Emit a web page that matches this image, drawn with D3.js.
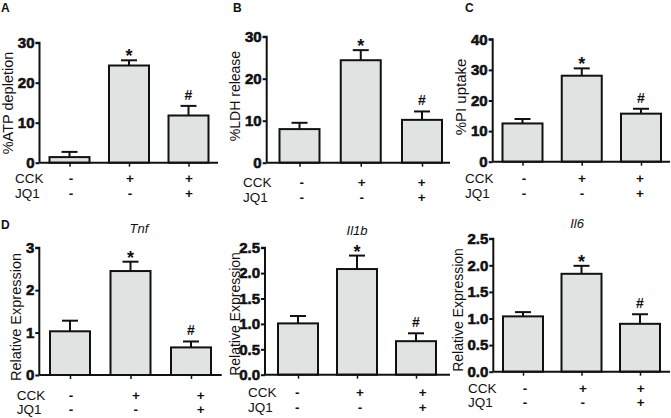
<!DOCTYPE html>
<html>
<head>
<meta charset="utf-8">
<script src="https://cdn.jsdelivr.net/npm/d3@7"></script>
<style>
html,body{margin:0;padding:0;background:#fff;}
svg{display:block;}
text{font-family:"Liberation Sans",Arial,sans-serif;fill:#111;}
</style>
</head>
<body>
<svg id="chart" width="671" height="418"></svg>
<script>
// ---- data ----
const groups = ["g1", "g2", "g3"];
const cckLabels = ["-", "+", "+"];
const jq1Labels = ["-", "-", "+"];
const sigMarks = ["", "*", "#"];

const atpMean = [1.4, 24.3, 11.8];
const atpErr  = [1.3, 1.3, 2.4];
const ldhMean = [8.0, 24.4, 10.2];
const ldhErr  = [1.5, 2.4, 2.0];
const piMean  = [12.5, 28.1, 15.7];
const piErr   = [1.45, 2.4, 1.6];
const tnfMean = [1.03, 2.45, 0.65];
const tnfErr  = [0.25, 0.22, 0.14];
const il1bMean = [1.01, 2.08, 0.66];
const il1bErr  = [0.145, 0.265, 0.155];
const il6Mean = [1.04, 1.84, 0.90];
const il6Err  = [0.08, 0.15, 0.18];

const atpTicks = [0, 10, 20, 30];
const ldhTicks = [0, 10, 20, 30];
const piTicks  = [0, 10, 20, 30, 40];
const tnfTicks = [0, 1, 2, 3];
const il1bTicks = [0, 0.5, 1.0, 1.5, 2.0, 2.5];
const il6Ticks  = [0, 0.5, 1.0, 1.5, 2.0, 2.5];

// ---- layout ----
const panels = [
  {letter:"A", lx:1, ly:12, ylabel:"%ATP depletion", ylx:13, yly:103, yfs:14.5, title:"", mean:atpMean, err:atpErr, ticks:atpTicks, fmt:d3.format("d"),
   ax:39.5, axEnd:218, y0:162.7, yTop:42.7, barRange:[69.5,188.5], labRange:[71,189], cckX:15, cckY:183, jqY:198},
  {letter:"B", lx:233, ly:12, ylabel:"%LDH release", ylx:240, yly:96, yfs:14, title:"", mean:ldhMean, err:ldhErr, ticks:ldhTicks, fmt:d3.format("d"),
   ax:266.7, axEnd:450, y0:162.7, yTop:36.7, barRange:[299.5,422], labRange:[301.7,421.7], cckX:243, cckY:186.5, jqY:201.5},
  {letter:"C", lx:465, ly:12, ylabel:"%PI uptake", ylx:466, yly:97, yfs:15, title:"", mean:piMean, err:piErr, ticks:piTicks, fmt:d3.format("d"),
   ax:492.7, axEnd:670, y0:161.7, yTop:39.3, barRange:[522.5,641], labRange:[524,640], cckX:465, cckY:183, jqY:198},
  {letter:"D", lx:1, ly:229, ylabel:"Relative Expression", ylx:20.5, yly:317, yfs:14.5, title:"Tnf", tx:139, ty:233, mean:tnfMean, err:tnfErr, ticks:tnfTicks, fmt:d3.format("d"),
   ax:39.3, axEnd:221.7, y0:375, yTop:247.7, barRange:[70,191], labRange:[71,200.7], cckX:16.7, cckY:400, jqY:414},
  {letter:"", ylabel:"Relative Expression", ylx:240, yly:314, yfs:14, title:"Il1b", tx:357, ty:235, mean:il1bMean, err:il1bErr, ticks:il1bTicks, fmt:d3.format(".1f"),
   ax:265, axEnd:450, y0:374.7, yTop:247.7, barRange:[298,416], labRange:[297.3,422.7], cckX:248, cckY:397, jqY:411.5},
  {letter:"", ylabel:"Relative Expression", ylx:463, yly:310, yfs:14, title:"Il6", tx:577, ty:228, mean:il6Mean, err:il6Err, ticks:il6Ticks, fmt:d3.format(".1f"),
   ax:493.3, axEnd:670, y0:371.7, yTop:238.7, barRange:[523,640], labRange:[525,640.7], cckX:468, cckY:392.5, jqY:406.5}
];

const svg = d3.select("#chart");
const barW = 40, capW = 16;
const fill = "#dfe4e2";

panels.forEach(p => {
  const g = svg.append("g");
  const y = d3.scaleLinear().domain([0, d3.max(p.ticks)]).range([p.y0, p.yTop]);
  const x = d3.scalePoint().domain(groups).range(p.barRange);
  const xl = d3.scalePoint().domain(groups).range(p.labRange);

  // error bars (behind bars)
  g.selectAll(".eb").data(groups).enter().append("line")
    .attr("x1", d => x(d)).attr("x2", d => x(d))
    .attr("y1", (d,i) => y(p.mean[i])).attr("y2", (d,i) => y(p.mean[i] + p.err[i]))
    .attr("stroke", "#111").attr("stroke-width", 2);
  g.selectAll(".cap").data(groups).enter().append("line")
    .attr("x1", d => x(d) - capW/2).attr("x2", d => x(d) + capW/2)
    .attr("y1", (d,i) => y(p.mean[i] + p.err[i])).attr("y2", (d,i) => y(p.mean[i] + p.err[i]))
    .attr("stroke", "#111").attr("stroke-width", 2);

  // bars
  g.selectAll(".bar").data(groups).enter().append("rect")
    .attr("x", d => x(d) - barW/2).attr("width", barW)
    .attr("y", (d,i) => y(p.mean[i])).attr("height", (d,i) => p.y0 - y(p.mean[i]))
    .attr("fill", fill).attr("stroke", "#111").attr("stroke-width", 2);

  // significance marks
  g.selectAll(".sig").data(groups).enter().append("text")
    .attr("x", d => x(d))
    .attr("y", (d,i) => y(p.mean[i] + p.err[i]) + (sigMarks[i] === "*" ? 2 : -6))
    .attr("text-anchor", "middle")
    .style("font-size", (d,i) => sigMarks[i] === "*" ? "18px" : "14px")
    .style("font-weight", "bold")
    .text((d,i) => sigMarks[i]);

  // y axis
  const yAxis = d3.axisLeft(y).tickValues(p.ticks).tickFormat(p.fmt).tickSize(4).tickPadding(1);
  const ya = g.append("g").attr("transform", `translate(${p.ax},0)`).call(yAxis);
  ya.attr("font-family", null).attr("font-size", null);
  ya.select(".domain").attr("stroke", "#111").attr("stroke-width", 2).attr("d", `M-4,${p.yTop}H0V${p.y0}`);
  ya.selectAll(".tick line").attr("stroke", "#111").attr("stroke-width", 2);
  ya.selectAll(".tick text").attr("font-size", 15).attr("font-weight", "bold")
    .style("font-size", "15px").style("font-weight", "bold").attr("fill", "#111")
    .attr("stroke", "#111").attr("stroke-width", 0.6);

  // x axis
  const xAxis = d3.axisBottom(x).tickSize(4).tickFormat("");
  const xa = g.append("g").attr("transform", `translate(0,${p.y0})`).call(xAxis);
  xa.select(".domain").attr("stroke", "#111").attr("stroke-width", 2).attr("d", `M${p.ax},0H${p.axEnd}`);
  xa.selectAll(".tick line").attr("stroke", "#111").attr("stroke-width", 1.5);

  // treatment rows
  g.append("text").attr("x", p.cckX).attr("y", p.cckY).style("font-size", "13.5px").text("CCK");
  g.append("text").attr("x", p.cckX).attr("y", p.jqY).style("font-size", "13.5px").text("JQ1");
  g.selectAll(".cck").data(groups).enter().append("text")
    .attr("x", d => xl(d)).attr("y", p.cckY).attr("text-anchor", "middle")
    .style("font-size", "13.5px").style("font-weight", "bold").text((d,i) => cckLabels[i]);
  g.selectAll(".jq").data(groups).enter().append("text")
    .attr("x", d => xl(d)).attr("y", p.jqY).attr("text-anchor", "middle")
    .style("font-size", "13.5px").style("font-weight", "bold").text((d,i) => jq1Labels[i]);

  // y label
  g.append("text").attr("transform", `translate(${p.ylx},${p.yly}) rotate(-90)`)
    .attr("text-anchor", "middle").style("font-size", p.yfs + "px").text(p.ylabel);

  // title
  if (p.title) {
    g.append("text").attr("x", p.tx).attr("y", p.ty).attr("text-anchor", "middle")
      .style("font-size", "13px").style("font-style", "italic").text(p.title);
  }
  // panel letter
  if (p.letter) {
    g.append("text").attr("x", p.lx).attr("y", p.ly).style("font-size", "12px").style("font-weight", "bold").text(p.letter);
  }
});
</script>
</body>
</html>
